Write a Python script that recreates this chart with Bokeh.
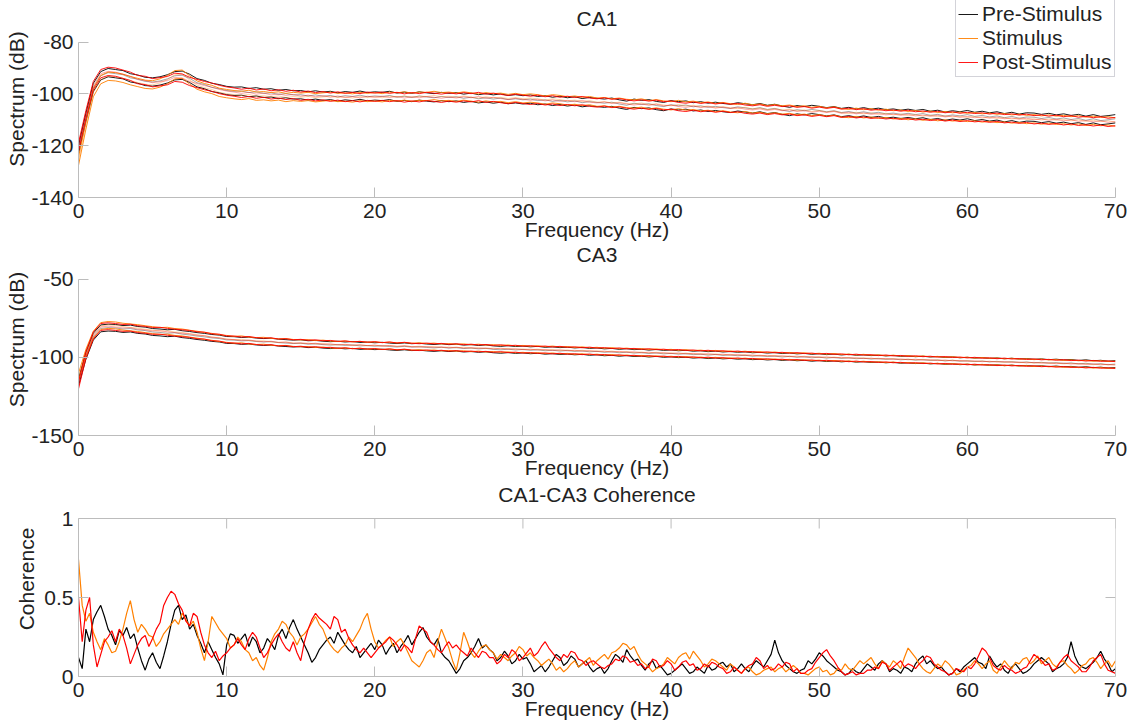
import numpy as np
from bokeh.plotting import figure
from bokeh.layouts import column
from bokeh.models import FixedTicker, Range1d, Legend, LegendItem, Label
from bokeh.embed import file_html
from bokeh.resources import INLINE

FONT = "Liberation Sans"
FS = "21px"
TEXT = "#222222"
AXIS = "#bcbcbc"

# ---------------- data ----------------
spec_step = 0.5    # Hz between spectrum samples
coh_step = 0.25    # Hz between coherence samples
series_labels = ["Pre-Stimulus", "Stimulus", "Post-Stimulus"]
series_colors = ["#000000", "#FF8000", "#FF0000"]
x_ticks = [0, 10, 20, 30, 40, 50, 60, 70]
ca1_ticks = [-140, -120, -100, -80]
ca3_ticks = [-150, -100, -50]
coh_ticks = [0, 0.5, 1]
panel_titles = ["CA1", "CA3", "CA1-CA3 Coherence"]

# CA1 spectrum means (dB)
ca1_pre = [-121.5, -109.0, -97.5, -93.0, -91.8, -92.2, -92.6, -93.8, -94.3, -95.2, -95.4, -95.0, -94.2, -93.0, -92.8, -94.0, -95.7, -96.4, -97.5, -98.0, -98.7,
           -99.0, -98.9, -99.5, -99.2, -99.8, -99.6, -100.2, -99.9, -100.4, -100.3,
           -100.8, -100.4, -100.9, -100.6, -101.2, -100.7, -101.0, -100.5, -101.1, -100.8,
           -101.0, -100.6, -101.3, -100.9, -101.4, -100.8, -101.2, -101.5, -101.0, -101.4,
           -101.1, -101.7, -101.3, -101.9, -101.5, -102.0, -101.6, -102.2, -101.9, -102.3,
           -102.0, -102.6, -102.3, -102.9, -102.5, -103.1, -102.7, -103.4, -103.0, -103.3,
           -103.6, -103.2, -103.9, -104.4, -103.6, -104.1, -103.8, -104.5, -104.9, -104.2,
           -104.6, -104.3, -105.0, -104.6, -105.2, -104.8, -105.3, -105.6, -105.0, -105.4,
           -105.8, -105.3, -106.0, -105.6, -106.3, -106.8, -106.1, -106.5, -106.0, -106.4,
           -106.9, -106.5, -107.2, -106.8, -107.4, -106.9, -107.5, -107.1, -107.7, -107.4,
           -107.9, -107.5, -108.0, -107.6, -108.3, -107.9, -108.6, -108.1, -108.5, -108.0,
           -108.7, -108.3, -108.9, -108.5, -109.2, -108.7, -109.4, -108.9, -109.0, -109.5,
           -109.1, -109.7, -109.3, -109.9, -109.5, -110.2, -109.6, -110.3, -110.0, -109.6]
ca1_stim = [-126.0, -112.0, -99.5, -94.5, -93.2, -93.4, -94.0, -94.9, -95.6, -96.3, -96.5, -95.8, -94.5, -92.6, -92.4, -94.6, -96.6, -97.6, -98.3, -99.4, -99.9,
            -100.3, -100.6, -100.2, -100.9, -100.7, -101.1, -100.8, -101.4, -101.0, -101.3,
            -101.0, -101.5, -101.2, -100.9, -101.4, -101.2, -101.6, -101.0, -101.4, -101.1,
            -101.5, -100.9, -101.2, -100.8, -101.3, -100.9, -101.0, -100.6, -101.1, -100.9,
            -101.3, -100.8, -101.2, -101.6, -101.1, -101.5, -101.3, -101.8, -101.4, -101.9,
            -101.6, -101.9, -102.4, -101.9, -102.2, -102.7, -102.4, -102.9, -102.6, -103.2,
            -103.0, -103.5, -103.2, -103.7, -103.9, -103.5, -104.2, -103.8, -104.3, -104.6,
            -104.1, -104.7, -104.4, -105.0, -104.7, -105.3, -104.9, -105.4, -105.7, -105.2,
            -105.8, -105.5, -106.1, -105.7, -106.2, -105.9, -106.5, -106.2, -106.8, -106.4,
            -107.0, -106.6, -107.3, -107.6, -107.1, -107.7, -107.3, -107.9, -107.5, -108.1,
            -107.8, -108.4, -108.0, -108.6, -108.2, -108.8, -108.4, -108.9, -108.6, -109.1,
            -108.8, -109.3, -109.0, -109.5, -109.2, -109.7, -109.4, -109.9, -109.6, -110.1,
            -109.7, -110.2, -109.9, -110.4, -110.0, -110.6, -110.2, -110.7, -110.4, -110.9]
ca1_post = [-120.5, -108.0, -96.8, -92.2, -91.3, -91.6, -92.4, -93.2, -94.5, -94.8, -95.7, -95.3, -94.9, -93.6, -93.9, -95.2, -96.0, -96.8, -97.4, -98.3, -98.9,
            -99.3, -99.8, -99.4, -100.1, -99.7, -100.4, -100.0, -100.6, -100.2, -100.9,
            -100.5, -101.1, -100.7, -101.3, -100.8, -101.4, -101.0, -101.5, -100.9, -101.3,
            -100.9, -101.4, -101.0, -101.6, -101.1, -101.5, -101.0, -101.3, -101.7, -101.2,
            -101.6, -101.1, -101.5, -101.0, -101.7, -101.3, -101.8, -102.2, -101.7, -102.1,
            -102.5, -102.1, -102.7, -102.3, -102.9, -102.5, -103.0, -102.6, -103.2, -103.5,
            -103.1, -103.7, -103.4, -103.9, -104.3, -103.9, -104.4, -104.0, -104.6, -104.3,
            -104.9, -105.2, -104.7, -105.3, -104.9, -105.5, -105.1, -105.6, -105.3, -105.9,
            -106.2, -105.8, -106.4, -106.0, -106.5, -106.2, -106.8, -106.5, -107.1, -106.7,
            -107.2, -106.8, -107.5, -107.1, -107.7, -107.3, -107.9, -107.6, -108.1, -107.8,
            -108.3, -107.9, -108.5, -108.2, -108.7, -108.3, -108.9, -108.5, -109.1, -108.7,
            -109.2, -108.9, -109.4, -109.0, -109.6, -109.3, -109.8, -109.4, -110.0, -109.7,
            -110.2, -109.8, -110.4, -110.0, -110.6, -110.3, -110.8, -110.4, -111.0, -110.7]
ca1_ci = [1.6, 1.6, 1.6]   # confidence half-width (dB)

# CA3 spectrum means (dB)
ca3_pre = [-116.0, -99.0, -86.8, -81.5, -81.0, -81.2, -81.9, -81.6, -82.5, -82.9, -83.8, -84.1, -84.6, -84.3, -85.2, -85.7, -86.4, -86.9, -87.6, -88.0, -88.9,
           -89.0, -89.5, -89.3, -89.9, -90.2, -90.0, -90.6, -90.9, -91.2, -91.0,
           -91.6, -91.4, -91.9, -92.2, -91.9, -92.4, -92.1, -92.7, -92.5, -92.9,
           -92.6, -93.1, -93.4, -93.0, -93.5, -93.2, -93.7, -94.0, -93.6, -94.1,
           -93.8, -94.4, -94.1, -94.6, -94.3, -94.9, -95.2, -94.8, -95.3, -95.0,
           -95.5, -95.2, -95.8, -95.5, -96.0, -95.7, -96.2, -95.9, -96.5, -96.2,
           -96.8, -96.5, -97.1, -96.7, -97.3, -97.0, -97.6, -97.2, -97.8, -97.5,
           -98.0, -97.7, -98.3, -98.0, -98.6, -98.2, -98.8, -98.5, -99.0, -98.7,
           -99.3, -99.0, -99.5, -99.2, -99.8, -99.4, -100.0, -99.7, -100.3, -99.9,
           -100.5, -100.1, -100.7, -100.3, -100.9, -100.6, -101.1, -100.8, -101.3, -101.0,
           -101.6, -101.3, -101.8, -101.5, -102.0, -101.7, -102.3, -101.9, -102.5, -102.2,
           -102.7, -102.4, -102.9, -102.6, -103.1, -102.8, -103.3, -103.0, -103.5, -103.2,
           -103.7, -103.4, -103.9, -103.6, -104.2, -103.8, -104.4, -104.1, -104.7, -104.3]
ca3_stim = [-112.5, -97.0, -85.5, -80.0, -79.3, -79.6, -80.4, -80.9, -81.3, -82.0, -82.6, -83.2, -83.0, -83.8, -84.1, -84.9, -85.5, -86.3, -86.9, -87.7, -88.2,
            -88.8, -88.5, -89.3, -89.6, -89.4, -90.1, -90.4, -90.2, -90.8, -91.1,
            -90.9, -91.5, -91.2, -91.8, -92.1, -91.8, -92.3, -92.0, -92.6, -92.3,
            -92.8, -92.5, -93.0, -92.7, -93.2, -92.9, -93.4, -93.1, -93.7, -93.4,
            -93.9, -93.6, -94.2, -93.8, -94.4, -94.1, -94.6, -94.3, -94.9, -94.6,
            -95.1, -94.8, -95.4, -95.0, -95.6, -95.3, -95.9, -95.5, -96.1, -95.8,
            -96.4, -96.0, -96.7, -96.3, -96.9, -96.6, -97.2, -96.8, -97.4, -97.1,
            -97.7, -97.3, -97.9, -97.6, -98.2, -97.8, -98.4, -98.1, -98.7, -98.3,
            -98.9, -98.6, -99.2, -98.8, -99.4, -99.1, -99.7, -99.3, -99.9, -99.6,
            -100.2, -99.8, -100.4, -100.1, -100.7, -100.3, -100.9, -100.6, -101.2, -100.8,
            -101.4, -101.1, -101.7, -101.3, -101.9, -101.6, -102.2, -101.8, -102.4, -102.1,
            -102.7, -102.3, -102.9, -102.6, -103.2, -102.8, -103.4, -103.1, -103.7, -103.3,
            -103.9, -103.6, -104.2, -103.8, -104.4, -104.1, -104.7, -104.3, -104.9, -104.6]
ca3_post = [-118.0, -98.5, -86.0, -80.6, -80.1, -80.6, -81.2, -81.0, -82.0, -82.4, -83.1, -83.0, -83.7, -84.2, -84.6, -85.0, -85.9, -86.1, -87.2, -87.4, -88.5,
            -88.6, -89.2, -88.9, -89.6, -90.0, -89.7, -90.5, -90.3, -91.0, -90.7,
            -91.3, -91.0, -91.6, -91.4, -92.0, -91.7, -92.3, -92.0, -92.5, -92.2,
            -92.8, -92.4, -93.0, -92.6, -93.2, -93.5, -93.1, -93.6, -93.3, -93.9,
            -93.5, -94.1, -93.8, -94.3, -94.0, -94.6, -94.2, -94.8, -94.5, -95.1,
            -94.8, -95.3, -95.0, -95.6, -95.2, -95.8, -95.5, -96.1, -95.7, -96.3,
            -96.0, -96.6, -96.2, -96.8, -96.5, -97.1, -96.7, -97.3, -97.0, -97.6,
            -97.2, -97.8, -97.5, -98.1, -97.7, -98.3, -98.0, -98.6, -98.2, -98.8,
            -98.5, -99.1, -98.7, -99.3, -99.0, -99.6, -99.2, -99.8, -99.5, -100.1,
            -99.7, -100.3, -100.0, -100.6, -100.2, -100.8, -100.5, -101.1, -100.7, -101.3,
            -101.0, -101.6, -101.2, -101.8, -101.5, -102.1, -101.7, -102.3, -102.0, -102.6,
            -102.2, -102.8, -102.5, -103.1, -102.7, -103.3, -103.0, -103.6, -103.2, -103.8,
            -103.5, -104.1, -103.7, -104.3, -104.0, -104.6, -104.2, -104.8, -104.5, -105.0]
ca3_ci = [2.2, 2.2, 2.2]   # confidence half-width (dB)

# CA1-CA3 coherence (0.25 Hz samples)
coh_pre = [0.12, 0.05, 0.30, 0.22, 0.36, 0.41, 0.45, 0.38, 0.30, 0.26, 0.20, 0.29, 0.26, 0.31, 0.24, 0.27, 0.18, 0.10, 0.04, 0.11,
           0.15, 0.09, 0.05, 0.13, 0.22, 0.33, 0.42, 0.45, 0.36, 0.39, 0.30, 0.33, 0.26, 0.21, 0.15, 0.22, 0.17, 0.12, 0.08, 0.01, 0.20,
           0.27, 0.26, 0.21, 0.24, 0.27, 0.19, 0.25, 0.22, 0.15, 0.18, 0.24, 0.21, 0.17, 0.26, 0.30, 0.24, 0.31, 0.36, 0.30, 0.25,
           0.20, 0.15, 0.09, 0.12, 0.17, 0.20, 0.23, 0.25, 0.21, 0.28, 0.24, 0.20, 0.17, 0.15, 0.19, 0.12, 0.15, 0.18, 0.21, 0.17,
           0.23, 0.20, 0.14, 0.18, 0.21, 0.15, 0.19, 0.22, 0.26, 0.20, 0.24, 0.28, 0.31, 0.25, 0.22, 0.20, 0.24, 0.15, 0.12, 0.10,
           0.06, 0.02, 0.05, 0.10, 0.12, 0.15, 0.19, 0.24, 0.18, 0.20, 0.17, 0.15, 0.10, 0.12, 0.16, 0.13, 0.08, 0.10, 0.14, 0.11,
           0.12, 0.08, 0.03, 0.05, 0.07, 0.03, 0.06, 0.10, 0.14, 0.12, 0.07, 0.09, 0.13, 0.11, 0.06, 0.08, 0.10, 0.06, 0.03, 0.05,
           0.06, 0.02, 0.05, 0.10, 0.14, 0.12, 0.09, 0.17, 0.13, 0.10, 0.11, 0.07, 0.04, 0.08, 0.10, 0.05, 0.07, 0.04, 0.01, 0.02,
           0.04, 0.06, 0.08, 0.05, 0.02, 0.03, 0.06, 0.04, 0.02, 0.07, 0.04, 0.05, 0.08, 0.09, 0.06, 0.08, 0.03, 0.05, 0.08, 0.05,
           0.03, 0.07, 0.10, 0.08, 0.06, 0.10, 0.14, 0.23, 0.15, 0.10, 0.07, 0.05, 0.03, 0.02, 0.04, 0.05, 0.10, 0.08, 0.11, 0.15,
           0.13, 0.10, 0.08, 0.06, 0.04, 0.03, 0.01, 0.02, 0.05, 0.03, 0.02, 0.05, 0.08, 0.06, 0.04, 0.08, 0.10, 0.08, 0.03, 0.05,
           0.04, 0.02, 0.06, 0.05, 0.03, 0.08, 0.11, 0.13, 0.08, 0.10, 0.07, 0.05, 0.06, 0.03, 0.01, 0.02, 0.05, 0.03, 0.06, 0.08,
           0.10, 0.12, 0.09, 0.08, 0.05, 0.13, 0.09, 0.06, 0.08, 0.04, 0.02, 0.06, 0.08, 0.05, 0.02, 0.03, 0.05, 0.08, 0.10, 0.12,
           0.10, 0.08, 0.03, 0.05, 0.06, 0.08, 0.12, 0.22, 0.13, 0.08, 0.06, 0.05, 0.07, 0.09, 0.12, 0.16, 0.11, 0.08, 0.03, 0.05]
coh_stim = [0.74, 0.45, 0.35, 0.40, 0.28, 0.22, 0.17, 0.24, 0.20, 0.15, 0.16, 0.22, 0.30, 0.40, 0.48, 0.36, 0.28, 0.33, 0.30, 0.26,
            0.25, 0.19, 0.22, 0.27, 0.30, 0.33, 0.36, 0.33, 0.40, 0.36, 0.32, 0.35, 0.28, 0.18, 0.10, 0.22, 0.38, 0.34, 0.30, 0.27, 0.24,
            0.18, 0.20, 0.25, 0.22, 0.17, 0.15, 0.10, 0.12, 0.07, 0.04, 0.12, 0.22, 0.27, 0.30, 0.35, 0.33, 0.28, 0.25, 0.20, 0.25,
            0.27, 0.30, 0.34, 0.38, 0.33, 0.30, 0.24, 0.20, 0.17, 0.15, 0.18, 0.20, 0.25, 0.22, 0.26, 0.30, 0.36, 0.40, 0.30, 0.22,
            0.18, 0.20, 0.23, 0.25, 0.19, 0.22, 0.24, 0.20, 0.15, 0.10, 0.08, 0.06, 0.10, 0.15, 0.17, 0.12, 0.22, 0.30, 0.24, 0.18,
            0.10, 0.04, 0.15, 0.28, 0.22, 0.15, 0.12, 0.16, 0.19, 0.20, 0.17, 0.15, 0.11, 0.14, 0.12, 0.10, 0.13, 0.15, 0.19, 0.17,
            0.13, 0.15, 0.12, 0.10, 0.07, 0.09, 0.11, 0.08, 0.04, 0.06, 0.03, 0.05, 0.08, 0.10, 0.06, 0.08, 0.10, 0.12, 0.07, 0.10,
            0.12, 0.14, 0.11, 0.15, 0.16, 0.18, 0.21, 0.20, 0.17, 0.19, 0.14, 0.10, 0.08, 0.06, 0.03, 0.05, 0.06, 0.08, 0.12, 0.10,
            0.08, 0.12, 0.14, 0.15, 0.11, 0.16, 0.13, 0.10, 0.06, 0.08, 0.11, 0.10, 0.08, 0.06, 0.04, 0.08, 0.06, 0.04, 0.02, 0.05,
            0.06, 0.03, 0.01, 0.02, 0.04, 0.05, 0.06, 0.03, 0.05, 0.06, 0.03, 0.05, 0.07, 0.05, 0.02, 0.02, 0.01, 0.03, 0.05, 0.06,
            0.03, 0.04, 0.01, 0.02, 0.05, 0.04, 0.08, 0.05, 0.04, 0.07, 0.10, 0.08, 0.10, 0.12, 0.08, 0.05, 0.10, 0.08, 0.06, 0.10,
            0.08, 0.05, 0.12, 0.18, 0.15, 0.12, 0.08, 0.05, 0.03, 0.02, 0.05, 0.08, 0.06, 0.10, 0.08, 0.05, 0.01, 0.02, 0.04, 0.06,
            0.07, 0.10, 0.08, 0.05, 0.08, 0.10, 0.04, 0.02, 0.06, 0.10, 0.07, 0.05, 0.09, 0.08, 0.11, 0.12, 0.08, 0.10, 0.13, 0.08,
            0.10, 0.12, 0.08, 0.06, 0.09, 0.10, 0.07, 0.05, 0.02, 0.04, 0.07, 0.08, 0.11, 0.12, 0.09, 0.05, 0.08, 0.10, 0.06, 0.10]
coh_post = [0.50, 0.22, 0.42, 0.50, 0.20, 0.06, 0.14, 0.22, 0.25, 0.29, 0.22, 0.30, 0.26, 0.18, 0.08, 0.14, 0.20, 0.24, 0.26, 0.19,
            0.24, 0.30, 0.34, 0.45, 0.50, 0.54, 0.52, 0.46, 0.42, 0.35, 0.32, 0.40, 0.38, 0.28, 0.20, 0.15, 0.12, 0.16, 0.10, 0.13, 0.15,
            0.18, 0.20, 0.24, 0.20, 0.17, 0.24, 0.28, 0.25, 0.18, 0.12, 0.15, 0.20, 0.24, 0.27, 0.22, 0.18, 0.16, 0.22, 0.15, 0.10,
            0.22, 0.30, 0.36, 0.40, 0.37, 0.35, 0.33, 0.30, 0.38, 0.36, 0.28, 0.30, 0.24, 0.20, 0.17, 0.15, 0.18, 0.15, 0.12, 0.15,
            0.18, 0.20, 0.22, 0.25, 0.23, 0.20, 0.16, 0.20, 0.18, 0.15, 0.24, 0.32, 0.30, 0.28, 0.22, 0.20, 0.17, 0.15, 0.19, 0.22,
            0.18, 0.20, 0.17, 0.15, 0.13, 0.18, 0.15, 0.12, 0.16, 0.15, 0.12, 0.12, 0.08, 0.10, 0.14, 0.12, 0.17, 0.15, 0.10, 0.12,
            0.15, 0.18, 0.13, 0.15, 0.19, 0.22, 0.18, 0.15, 0.12, 0.10, 0.14, 0.12, 0.16, 0.15, 0.11, 0.10, 0.07, 0.09, 0.10, 0.08,
            0.06, 0.05, 0.07, 0.08, 0.11, 0.10, 0.13, 0.12, 0.09, 0.10, 0.07, 0.08, 0.05, 0.06, 0.11, 0.10, 0.06, 0.07, 0.10, 0.08,
            0.04, 0.06, 0.09, 0.10, 0.07, 0.08, 0.04, 0.05, 0.08, 0.06, 0.09, 0.08, 0.06, 0.05, 0.02, 0.03, 0.06, 0.04, 0.02, 0.05,
            0.07, 0.08, 0.12, 0.10, 0.05, 0.07, 0.04, 0.05, 0.08, 0.06, 0.09, 0.08, 0.03, 0.05, 0.02, 0.02, 0.04, 0.05, 0.09, 0.12,
            0.15, 0.17, 0.13, 0.10, 0.06, 0.03, 0.01, 0.02, 0.03, 0.01, 0.02, 0.02, 0.04, 0.04, 0.06, 0.05, 0.09, 0.08, 0.04, 0.06,
            0.08, 0.10, 0.06, 0.08, 0.07, 0.05, 0.08, 0.10, 0.13, 0.12, 0.08, 0.06, 0.04, 0.03, 0.01, 0.02, 0.05, 0.04, 0.03, 0.06,
            0.05, 0.08, 0.13, 0.18, 0.16, 0.12, 0.07, 0.05, 0.04, 0.07, 0.05, 0.04, 0.02, 0.03, 0.05, 0.06, 0.10, 0.14, 0.12, 0.10,
            0.07, 0.08, 0.04, 0.05, 0.09, 0.12, 0.14, 0.10, 0.08, 0.06, 0.03, 0.03, 0.06, 0.10, 0.12, 0.14, 0.08, 0.04, 0.03, 0.02]


def freqs(vals, step):
    return np.arange(len(vals)) * step


# ---------------- layout (pixels) ----------------
W = 1139
LEFT, RIGHT = 78, 24
TICK_LEN = 10


def style_axis(ax):
    ax.axis_line_color = AXIS
    ax.major_tick_line_color = AXIS
    ax.minor_tick_line_color = None
    ax.major_tick_in = TICK_LEN
    ax.major_tick_out = 0
    ax.major_label_text_font = FONT
    ax.major_label_text_font_size = FS
    ax.major_label_text_color = TEXT
    ax.axis_label_text_font = FONT
    ax.axis_label_text_font_size = FS
    ax.axis_label_text_font_style = "normal"
    ax.axis_label_text_color = TEXT


def make_panel(height, bottom, axis_top_px, title_px, yticks, ylabel, title, ylabel_standoff):
    """Frame runs from the top of the figure; y range is stretched above the
    top tick so that the title (and legend) can sit inside the frame."""
    frame_h = height - bottom
    y_lo, y_top = yticks[0], yticks[-1]
    y_hi = y_lo + (y_top - y_lo) * frame_h / (frame_h - axis_top_px)
    p = figure(width=W, height=height, x_range=Range1d(x_ticks[0], x_ticks[-1]), y_range=Range1d(y_lo, y_hi),
               min_border_left=LEFT, min_border_right=RIGHT, min_border_top=0, min_border_bottom=bottom,
               output_backend="svg", toolbar_location=None)
    p.xgrid.visible = False
    p.ygrid.visible = False
    p.outline_line_color = None
    p.xaxis.ticker = FixedTicker(ticks=x_ticks)
    p.yaxis.ticker = FixedTicker(ticks=yticks)
    # plain hyphen-minus tick labels, as in the original
    p.yaxis.major_label_overrides = {t: str(t) for t in yticks}
    p.yaxis.bounds = (y_lo, y_top)
    p.xaxis.axis_label = "Frequency (Hz)"
    p.yaxis.axis_label = ylabel
    for ax in p.xaxis + p.yaxis:
        style_axis(ax)
    p.xaxis.major_label_standoff = 6
    p.xaxis.axis_label_standoff = -3
    p.yaxis.major_label_standoff = 5
    p.yaxis.axis_label_standoff = ylabel_standoff
    title_y = y_lo + (frame_h - title_px) / frame_h * (y_hi - y_lo)
    p.add_layout(Label(x=(x_ticks[0] + x_ticks[-1]) / 2, y=title_y, text=title, text_align="center",
                       text_baseline="middle", text_font=FONT, text_font_size=FS, text_color=TEXT))
    p._px_per_y = (frame_h - axis_top_px) / (y_top - y_lo)
    return p


def draw_spectrum(p, means, cis):
    rends = []
    for vals, ci, color in zip(means, cis, series_colors):
        y = np.array(vals)
        x = freqs(vals, spec_step)
        r_up = p.line(x, y + ci, line_color=color, line_width=1, line_alpha=0.9)
        p.line(x, y - ci, line_color=color, line_width=1, line_alpha=0.9)
        p.line(x, y, line_color=color, line_width=1, line_alpha=0.35)
        rends.append(r_up)
    return rends


# Panel 1: CA1   (figure rows 0..243, axis top at 42, axis bottom at 199)
p1 = make_panel(243, 44, 42, 18, ca1_ticks, "Spectrum (dB)", panel_titles[0], 0)
r1 = draw_spectrum(p1, [ca1_pre, ca1_stim, ca1_post], ca1_ci)
legend = Legend(items=[LegendItem(label=l, renderers=[r]) for l, r in zip(series_labels, r1)],
                location=(877, 120))
legend.label_text_font = FONT
legend.label_text_font_size = FS
legend.label_text_color = TEXT
legend.glyph_width = 20
legend.glyph_height = 24
legend.label_height = 24
legend.label_standoff = 4
legend.spacing = 0
legend.padding = 2
legend.margin = 0
legend.border_line_color = "#a8a8b4"
legend.background_fill_alpha = 1.0
p1.add_layout(legend)

# Panel 2: CA3   (figure rows 243..481, axis 279..437)
p2 = make_panel(238, 44, 36, 11, ca3_ticks, "Spectrum (dB)", panel_titles[1], 0)
draw_spectrum(p2, [ca3_pre, ca3_stim, ca3_post], ca3_ci)

# Panel 3: Coherence   (figure rows 481..723, axis 518..676), boxed axes
p3 = make_panel(242, 47, 37, 13, coh_ticks, "Coherence", panel_titles[2], 3)
for vals, color in zip([coh_pre, coh_stim, coh_post], series_colors):
    p3.line(freqs(vals, coh_step), vals, line_color=color, line_width=1.2)

# box: top and right edges with inward ticks, derived from the axis limits / tick lists
x0, x1 = x_ticks[0], x_ticks[-1]
y0, y1 = coh_ticks[0], coh_ticks[-1]
px_per_x = (W - LEFT - RIGHT) / (x1 - x0)
p3.segment(x0=[x0, x1], y0=[y1, y0], x1=[x1, x1], y1=[y1, y1], line_color=AXIS, line_width=1)
tick_dy = TICK_LEN / p3._px_per_y
tick_dx = TICK_LEN / px_per_x
p3.segment(x0=x_ticks, y0=[y1] * len(x_ticks), x1=x_ticks, y1=[y1 - tick_dy] * len(x_ticks),
           line_color=AXIS, line_width=1)
p3.segment(x0=[x1] * len(coh_ticks), y0=coh_ticks, x1=[x1 - tick_dx] * len(coh_ticks), y1=coh_ticks,
           line_color=AXIS, line_width=1)

layout = column(p1, p2, p3, spacing=0)
open("out.html", "w").write(file_html(layout, INLINE))
